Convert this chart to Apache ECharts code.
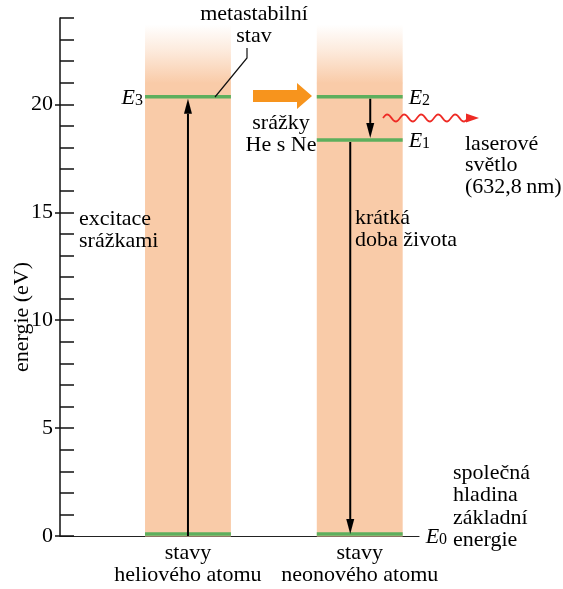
<!DOCTYPE html>
<html><head><meta charset="utf-8">
<script src="https://cdn.jsdelivr.net/npm/echarts@6/dist/echarts.min.js"></script>
<style>html,body{margin:0;padding:0;background:#fff}#c{width:563px;height:589px}</style>
</head><body><div id="c"></div>
<script>
// ---- data ----
const atomLabels = ['stavy\nheliového atomu', 'stavy\nneonového atomu'];
const atomSlots = [1, 3];
const yTicks = [0, 5, 10, 15, 20];
const yMax = 24;
const yName = 'energie (eV)';
const columnTop = 23.7;
const columnSolidTop = 21.0;
const heLevels = [0, 20.35];
const heLevelLabels = ['', '3'];
const neLevels = [0, 18.35, 20.35];
const neLevelLabels = ['0', '1', '2'];
const heTransFrom = [0];
const heTransTo = [20.35];
const neTransFrom = [20.35, 18.35];
const neTransTo = [18.35, 0];

// ---- styles ----
const FONT = 'Liberation Serif';
const INK = '#000';
const PEACH = '#F9CBA8';
const GREEN = '#5DAF5D';
const ORANGE = '#F7941D';
const RED = '#EE2A24';

const levelData = [];
heLevels.forEach((e, i) => levelData.push({ slot: atomSlots[0], e, lab: heLevelLabels[i], side: 'left' }));
neLevels.forEach((e, i) => levelData.push({ slot: atomSlots[1], e, lab: neLevelLabels[i], side: 'right' }));

const transData = [];
heTransFrom.forEach((f, i) => transData.push({ slot: atomSlots[0], from: f, to: heTransTo[i], dx: 0 }));
neTransFrom.forEach((f, i) => transData.push({ slot: atomSlots[1], from: f, to: neTransTo[i], dx: i === 0 ? 10.5 : -9.5 }));

const richE = {
  e: { fontFamily: FONT, fontSize: 22, fontStyle: 'italic', lineHeight: 22, fill: INK },
  s: { fontFamily: FONT, fontSize: 16, fontStyle: 'normal', lineHeight: 10, verticalAlign: 'bottom', fill: INK }
};

function renderColumn(params, api) {
  const slot = api.value(0);
  const b0 = api.coord([slot, 0]);
  const s1 = api.coord([slot + 1, columnSolidTop]);
  const t1 = api.coord([slot + 1, columnTop]);
  const x = b0[0], w = s1[0] - b0[0];
  return {
    type: 'group',
    children: [
      { type: 'rect', shape: { x, y: s1[1], width: w, height: b0[1] - s1[1] + 0.5 }, style: { fill: PEACH } },
      { type: 'rect', shape: { x, y: t1[1], width: w, height: s1[1] - t1[1] + 0.5 },
        style: { fill: { type: 'linear', x: 0, y: 0, x2: 0, y2: 1, colorStops: [
          { offset: 0, color: 'rgba(249,203,168,0)' },
          { offset: 0.45, color: 'rgba(249,203,168,0.4)' },
          { offset: 1, color: 'rgba(249,203,168,1)' }] } } }
    ]
  };
}

function renderLevel(params, api) {
  const d = levelData[params.dataIndex];
  const p0 = api.coord([d.slot, d.e]);
  const p1 = api.coord([d.slot + 1, d.e]);
  const y = d.e === 0 ? p0[1] - 2 : p0[1];
  const children = [{ type: 'line', shape: { x1: p0[0], y1: y, x2: p1[0], y2: y }, style: { stroke: GREEN, lineWidth: 3.5 } }];
  if (d.lab !== '') {
    const tx = d.side === 'left' ? p0[0] - 2 : p1[0] + (d.e === 0 ? 23 : 6);
    children.push({ type: 'text', style: {
      text: '{e|E}{s|' + d.lab + '}', rich: richE,
      x: tx, y: p0[1] + 1, align: d.side === 'left' ? 'right' : 'left', verticalAlign: 'middle' } });
  }
  return { type: 'group', children };
}

function renderTrans(params, api) {
  const d = transData[params.dataIndex];
  const pa = api.coord([d.slot + 0.5, d.from]);
  const pb = api.coord([d.slot + 0.5, d.to]);
  const x = pa[0] + d.dx;
  const dir = pb[1] > pa[1] ? 1 : -1;
  const y0 = d.from === 0 ? pa[1] : pa[1] + dir * 2;
  const tip = pb[1] - dir * 2;
  const hl = 15, hw = 4;
  return { type: 'group', children: [
    { type: 'line', shape: { x1: x, y1: y0, x2: x, y2: tip - dir * hl }, style: { stroke: '#000', lineWidth: 2 } },
    { type: 'polygon', shape: { points: [[x, tip], [x - hw, tip - dir * hl], [x + hw, tip - dir * hl]] }, style: { fill: '#000' } }
  ] };
}

function txt(x, top, text, align, lh) {
  return { type: 'text', x, y: top, z: 100, style: { text, fontFamily: FONT, fontSize: 22, fill: INK, align: align || 'left', verticalAlign: 'top', lineHeight: lh || 22 } };
}

const wave = [];
for (let x = 383; x <= 468; x += 1) wave.push([x, 118 - 3.5 * Math.sin(2 * Math.PI * (x - 383) / 17)]);

const chart = echarts.init(document.getElementById('c'), null, { renderer: 'canvas' });
chart.setOption({
  animation: false,
  backgroundColor: '#fff',
  textStyle: { fontFamily: FONT },
  grid: { left: 60, right: 144, top: 18, bottom: 53, containLabel: false, outerBoundsMode: 'none' },
  xAxis: {
    type: 'value', min: 0.01, max: 4.19,
    axisLine: { lineStyle: { color: '#222', width: 1.2 } },
    axisTick: { show: false }, splitLine: { show: false },
    axisLabel: {
      customValues: atomSlots.map(s => s + 0.5),
      formatter: v => atomLabels[atomSlots.indexOf(Math.round(v - 0.5))] || '',
      fontFamily: FONT, fontSize: 22, lineHeight: 22, color: INK, margin: 6
    }
  },
  yAxis: [{
    type: 'value', min: 0, max: yMax, interval: 1,
    axisLine: { show: true, lineStyle: { color: '#111', width: 1.5 } },
    axisTick: { show: true, inside: true, length: 14, lineStyle: { color: '#111', width: 1.5 } },
    axisLabel: { show: false }, splitLine: { show: false }
  }, {
    type: 'value', min: 0, max: yMax, position: 'left',
    axisLine: { show: false },
    axisTick: { show: true, inside: false, length: 5, customValues: yTicks, lineStyle: { color: '#111', width: 1.5 } },
    axisLabel: { customValues: yTicks, fontFamily: FONT, fontSize: 22, color: INK, margin: 7 },
    splitLine: { show: false }
  }],
  series: [
    { type: 'custom', renderItem: renderColumn, data: atomSlots.map(s => [s, 0]), z: 1, silent: true },
    { type: 'custom', renderItem: renderLevel, data: levelData.map(d => [d.slot, d.e]), z: 3, silent: true },
    { type: 'custom', renderItem: renderTrans, data: transData.map(d => [d.slot, d.from, d.to]), z: 4, silent: true }
  ],
  graphic: [
    { type: 'text', x: 22, y: 317, rotation: Math.PI / 2, z: 100,
      style: { text: yName, fontFamily: FONT, fontSize: 22, fill: INK, align: 'center', verticalAlign: 'middle' } },
    txt(254, 3, 'metastabilní\nstav', 'center'),
    { type: 'polyline', z: 100, shape: { points: [[247, 48], [247, 58], [215, 97]] }, style: { stroke: '#111', lineWidth: 1.2, fill: null } },
    { type: 'polygon', z: 100, shape: { points: [[253, 90], [297, 90], [297, 83], [312, 96], [297, 109], [297, 102], [253, 102]] }, style: { fill: ORANGE } },
    txt(281, 112, 'srážky\nHe s Ne', 'center'),
    { type: 'polyline', z: 100, shape: { points: wave }, style: { stroke: RED, lineWidth: 1.8, fill: null } },
    { type: 'polygon', z: 100, shape: { points: [[466, 113.5], [479, 118], [466, 122.5]] }, style: { fill: RED } },
    txt(465, 133, 'laserové\nsvětlo\n(632,8\u2009nm)', 'left', 21.5),
    txt(79, 208, 'excitace\nsrážkami', 'left'),
    txt(355, 207, 'krátká\ndoba života', 'left'),
    txt(453, 462, 'společná\nhladina\nzákladní\nenergie', 'left', 22.3)
  ]
});
</script>
</body></html>
